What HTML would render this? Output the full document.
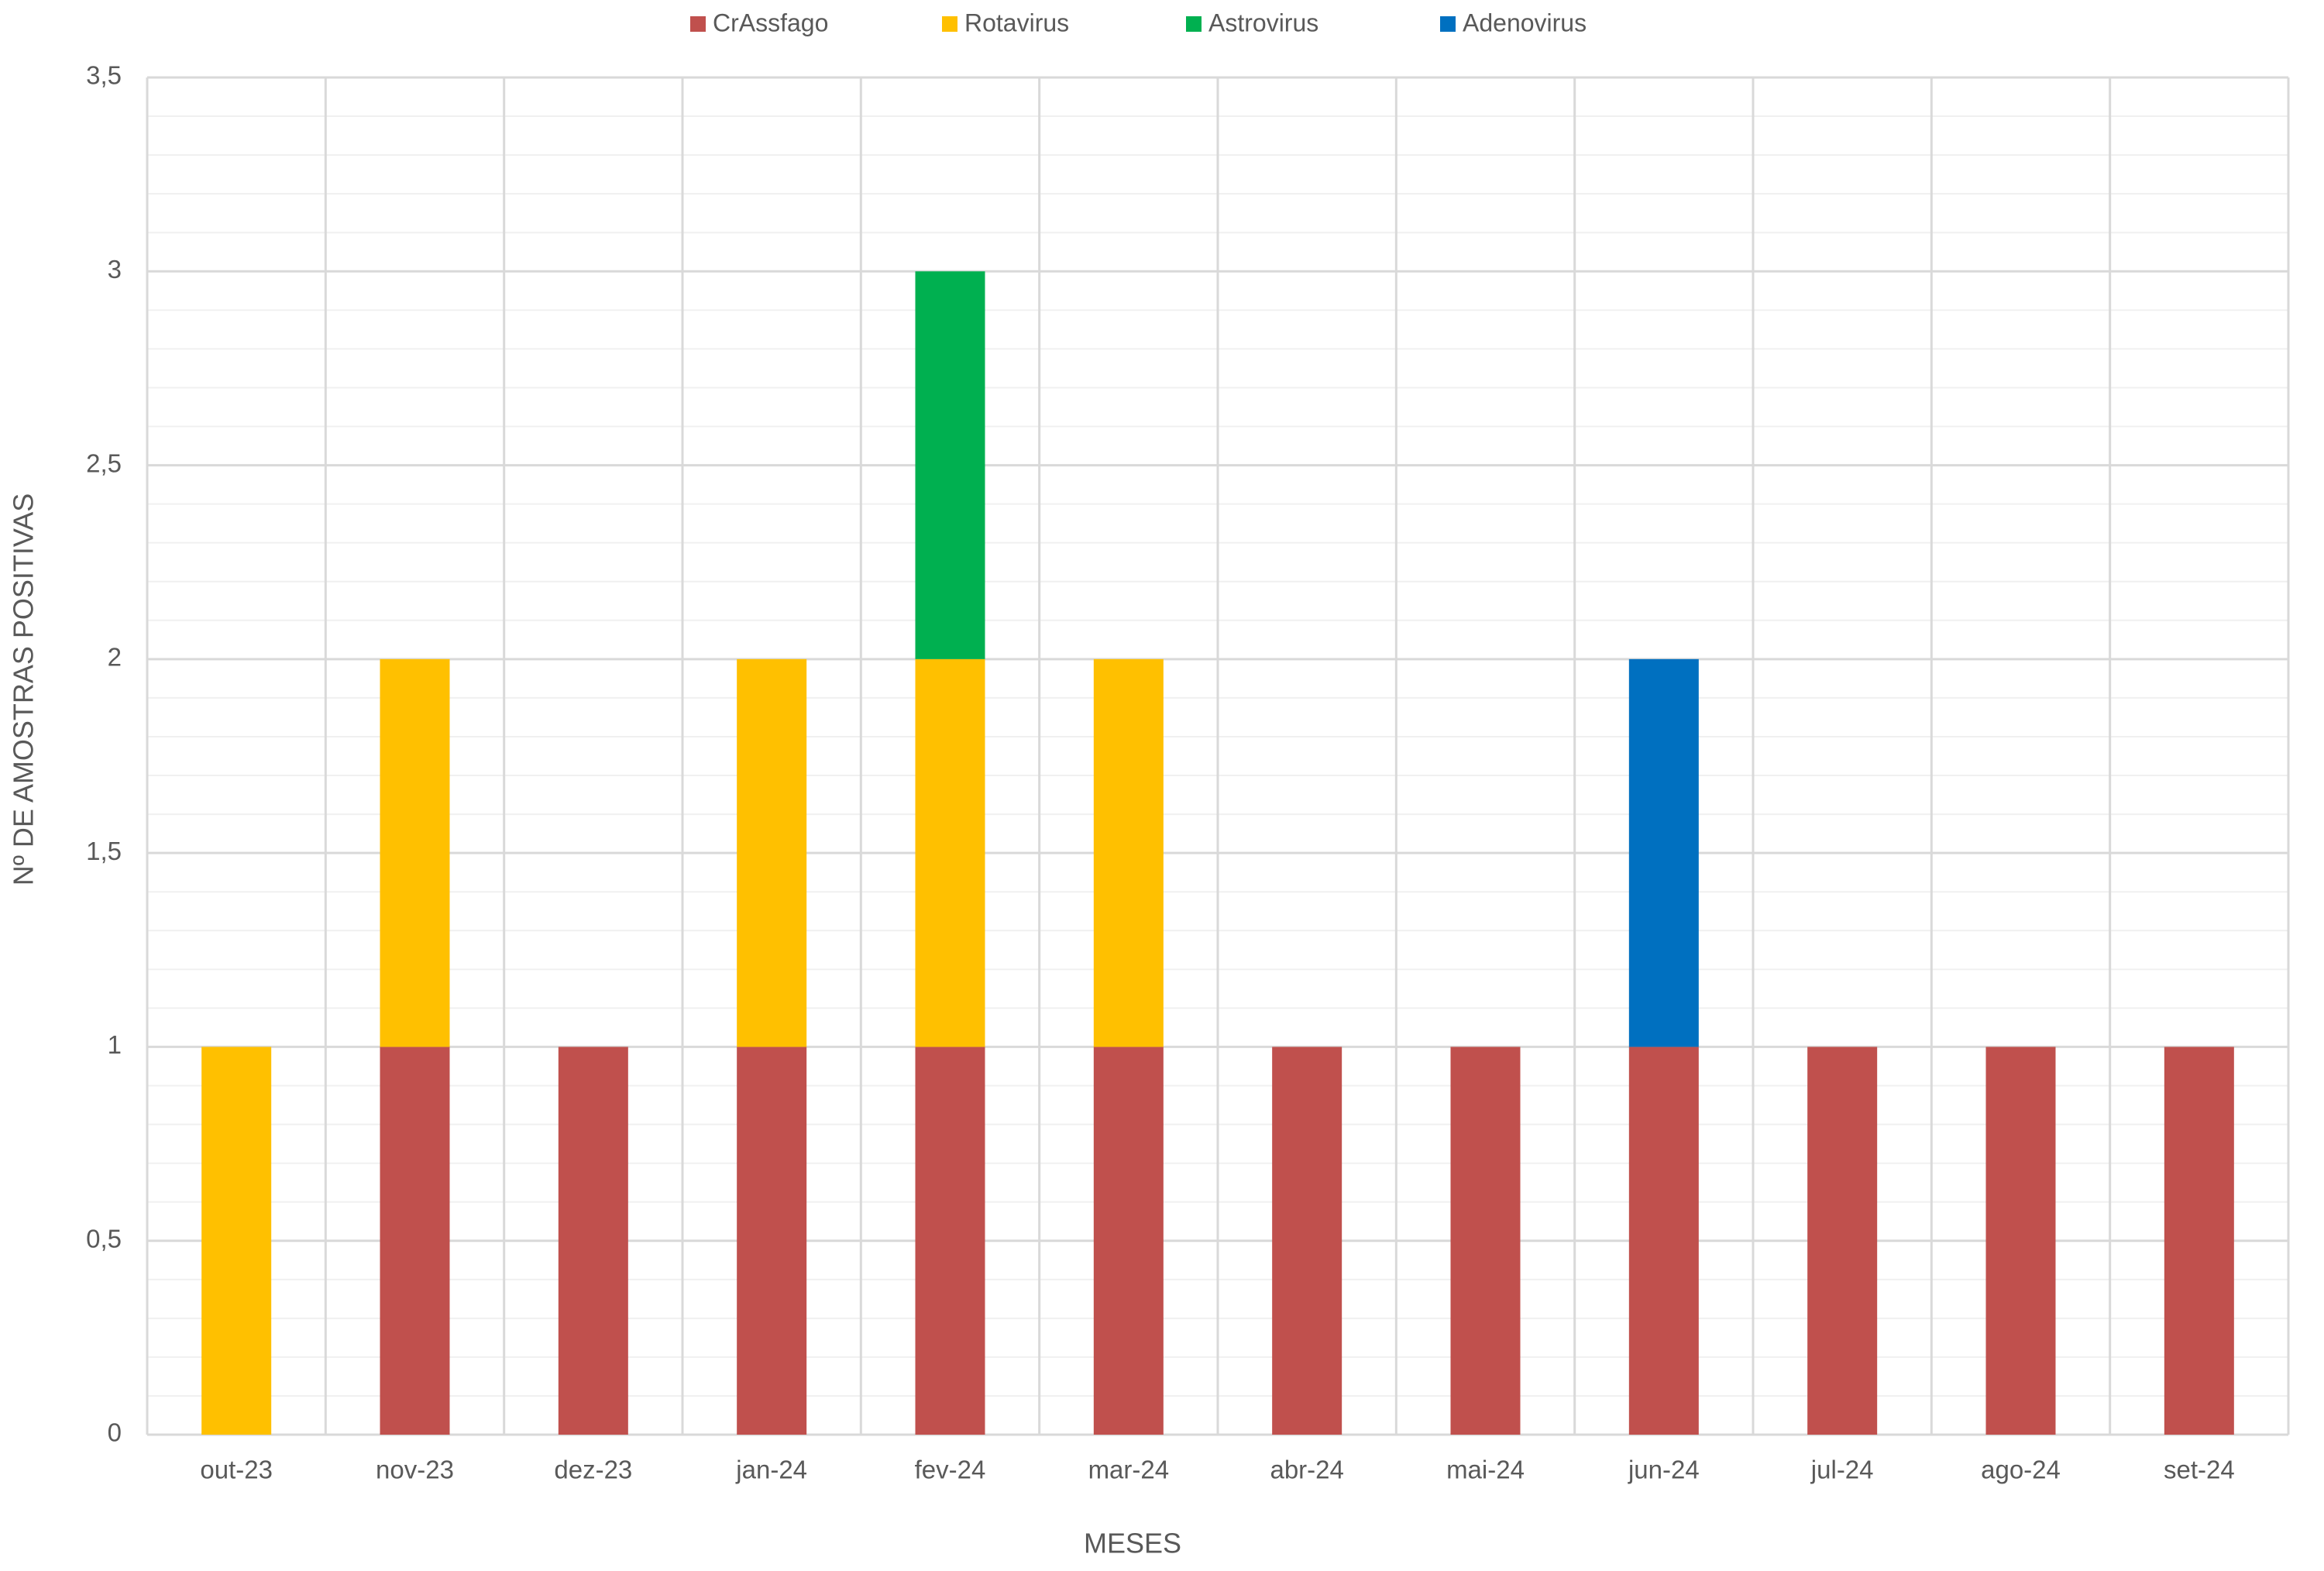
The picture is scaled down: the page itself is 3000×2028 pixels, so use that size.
<!DOCTYPE html>
<html><head><meta charset="utf-8"><style>
html,body{margin:0;padding:0;background:#fff;}
svg{display:block;}
text{font-family:"Liberation Sans",sans-serif;fill:#595959;}
</style></head><body>
<svg id="chart" width="3000" height="2028" viewBox="0 0 3000 2028">
<g id="grid"></g>
<g id="bars"></g>
<g id="axes"></g>
<g id="legend"></g>
<text x="33" y="890" font-size="36" text-anchor="middle" dominant-baseline="middle" transform="rotate(-90 33 890)">Nº DE AMOSTRAS POSITIVAS</text>
<text x="1462" y="1995" font-size="36" text-anchor="middle" dominant-baseline="middle">MESES</text>
</svg>
<script>
const categories = ["out-23","nov-23","dez-23","jan-24","fev-24","mar-24","abr-24","mai-24","jun-24","jul-24","ago-24","set-24"];
const seriesNames = ["CrAssfago","Rotavirus","Astrovirus","Adenovirus"];
const crassfago = [0,1,1,1,1,1,1,1,1,1,1,1];
const rotavirus = [1,1,0,1,1,1,0,0,0,0,0,0];
const astrovirus = [0,0,0,0,1,0,0,0,0,0,0,0];
const adenovirus = [0,0,0,0,0,0,0,0,1,0,0,0];
const yTicks = [0,0.5,1,1.5,2,2.5,3,3.5];
const yTickLabels = ["0","0,5","1","1,5","2","2,5","3","3,5"];

const NS="http://www.w3.org/2000/svg";
const L=190,R=2954,T=100,B=1852,YMAX=3.5;
const colors=["#C0504D","#FFC000","#00B050","#0070C0"];
const series=[crassfago,rotavirus,astrovirus,adenovirus];
const cw=(R-L)/categories.length;
function y(v){return B-(v/YMAX)*(B-T);}
function xc(i){return L+cw*(i+0.5);}
function mk(tag,attrs,parent){const e=document.createElementNS(NS,tag);for(const k in attrs)e.setAttribute(k,attrs[k]);parent.appendChild(e);return e;}
const grid=document.getElementById('grid'),bars=document.getElementById('bars'),axes=document.getElementById('axes'),legend=document.getElementById('legend');
for(let k=1;k<35;k++){ if(k%5===0)continue;
 const l=mk('line',{x1:L,x2:R,y1:y(k/10),y2:y(k/10),stroke:'#f0f0f0','stroke-width':2},grid);
 
 
}
for(let i=0;i<=categories.length;i++){
 const l=mk('line',{x1:L+cw*i,x2:L+cw*i,y1:T,y2:B,stroke:'#d9d9d9','stroke-width':3},grid);
 
 
}
yTicks.forEach((v,i)=>{
 const l=mk('line',{x1:L,x2:R,y1:y(v),y2:y(v),stroke:'#d9d9d9','stroke-width':3},grid);
 
 
 const t=mk('text',{x:157,y:y(v),'font-size':33,'text-anchor':'end','dominant-baseline':'middle'},axes);
 t.textContent=yTickLabels[i];
 
 
});
const bw=90;
categories.forEach((c,i)=>{
 let acc=0;
 series.forEach((s,si)=>{
  const v=s[i]; if(!v)return;
  const r=mk('rect',{x:xc(i)-bw/2,y:y(acc+v),width:bw,height:y(acc)-y(acc+v),fill:colors[si]},bars);
  
  
  acc+=v;
 });
 const t=mk('text',{x:xc(i),y:1900,'font-size':33,'text-anchor':'middle','dominant-baseline':'middle'},axes);
 t.textContent=c;
 
 
});
const legX=[891,1216,1531,1859];
seriesNames.forEach((n,i)=>{
 const g=mk('g',{},legend);
 
 
 mk('rect',{x:legX[i],y:21,width:20,height:20,fill:colors[i]},g);
 const t=mk('text',{x:legX[i]+29,y:32,'font-size':32,'dominant-baseline':'middle'},g);
 t.textContent=n;
});
</script>
</body></html>
